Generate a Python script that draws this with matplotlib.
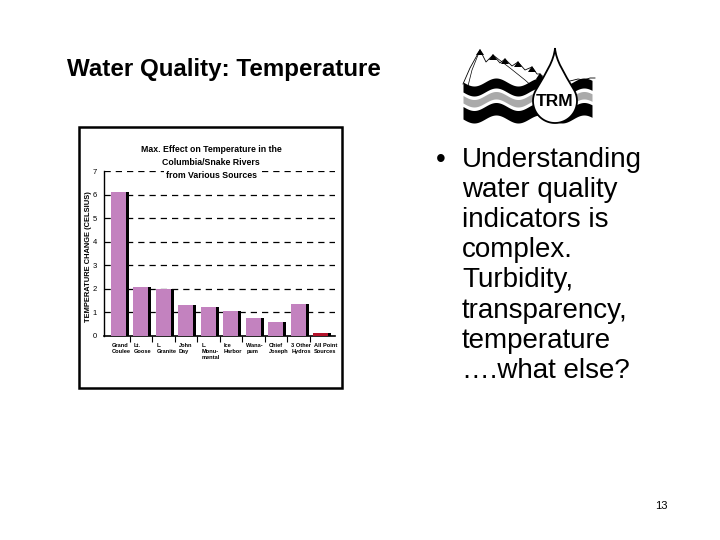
import numpy as np
import matplotlib
matplotlib.use("Agg")
import matplotlib.pyplot as plt
from matplotlib.path import Path
from matplotlib.patches import PathPatch, Rectangle

# ---------------- data ----------------
categories = ["Grand\nCoulee", "Lt.\nGoose", "L.\nGranite", "John\nDay",
              "L.\nMonu-\nmental", "Ice\nHarbor", "Wana-\npum", "Chief\nJoseph",
              "3 Other\nHydros", "All Point\nSources"]
values = [6.1, 2.1, 2.0, 1.3, 1.25, 1.07, 0.75, 0.6, 1.36, 0.14]
yticks = [0, 1, 2, 3, 4, 5, 6, 7]
chart_title = ["Max. Effect on Temperature in the", "Columbia/Snake Rivers", "from Various Sources"]
ylabel = "TEMPERATURE CHANGE (CELSIUS)"
slide_title = "Water Quality: Temperature"
bullet_lines = ["Understanding", "water quality", "indicators is", "complex.",
                "Turbidity,", "transparency,", "temperature", "\u2026.what else?"]
page_number = "13"

PINK = "#c382bf"
RED = "#b3122a"
ARIAL = ["Liberation Sans", "DejaVu Sans"]

fig = plt.figure(figsize=(7.2, 5.4), dpi=100)
fig.patch.set_facecolor("white")

# overlay axes in pixel coordinates
ov = fig.add_axes([0, 0, 1, 1], zorder=0)
ov.set_xlim(0, 720)
ov.set_ylim(540, 0)
ov.axis("off")

# slide title
ov.text(67, 76, slide_title, fontsize=17.4, fontweight="bold", family=ARIAL,
        ha="left", va="baseline")

# bullet text
for k, line in enumerate(bullet_lines):
    ov.text(462, 167 + 30.1 * k, line, fontsize=20, family=ARIAL,
            ha="left", va="baseline")
ov.text(436, 167, "\u2022", fontsize=20, family=ARIAL, ha="left", va="baseline")

# page number
ov.text(661, 509, page_number, fontsize=8, family=ARIAL, ha="center", va="baseline")

# chart frame
ov.add_patch(Rectangle((79, 127), 263, 261, fill=False, edgecolor="black", lw=1.8))

# ---------------- logo ----------------
xs = np.linspace(463, 592, 300)
P = 44.0
A = 4.0
def wave(x, off):
    return off + A * np.sin(2 * np.pi * (x - 463) / P)
ov.fill_between(xs, wave(xs, 82), wave(xs, 92), color="black", lw=0, zorder=2)
ov.fill_between(xs, wave(xs, 95.5), wave(xs, 103), color="#aaaaaa", lw=0, zorder=2)
ov.fill_between(xs, wave(xs, 106.5), wave(xs, 119), color="black", lw=0, zorder=2)

# mountains
mx = [463, 470, 480, 486, 493, 500, 505, 512, 518, 525, 532, 537, 540, 546, 552]
my = [84, 68, 50, 62, 55, 63, 59, 66, 62, 70, 67, 74, 74, 79, 82]
ov.plot(mx, my, color="black", lw=0.6, zorder=2)
ov.plot([480, 472, 468], [50, 70, 86], color="black", lw=0.5, zorder=2)
ov.plot([493, 510, 525, 534], [55, 68, 80, 88], color="black", lw=0.5, zorder=2)
for px, py in [(480, 50), (493, 55), (505, 59), (518, 62), (532, 67), (540, 74)]:
    ov.fill([px - 4, px, px + 4], [py + 5, py - 1, py + 5], color="black", lw=0, zorder=2)
ov.plot([570, 578, 584, 590, 595], [81, 79, 80, 78, 78], color="black", lw=0.6, zorder=2)

# drop
cx, cy, R = 555, 101, 22
lx, ly = cx - R * np.cos(np.radians(30)), cy - R * np.sin(np.radians(30))
rx, ry = cx + R * np.cos(np.radians(30)), ly
ang = np.radians(np.linspace(150, 390, 60))
arc = [(cx + R * np.cos(a), cy - R * np.sin(a)) for a in ang]
verts = [(cx, 48), (cx - 1, 61), (lx + 10, ly - 17.3), (lx, ly)]
codes = [Path.MOVETO, Path.CURVE4, Path.CURVE4, Path.CURVE4]
for p in arc[1:]:
    verts.append(p)
    codes.append(Path.LINETO)
verts += [(rx - 10, ry - 17.3), (cx + 1, 61), (cx, 48)]
codes += [Path.CURVE4, Path.CURVE4, Path.CURVE4]
ov.add_patch(PathPatch(Path(verts, codes), facecolor="white", edgecolor="black",
                       lw=1.3, zorder=3))
ov.text(cx, 102, "TRM", fontsize=12.5, fontweight="bold", family=ARIAL,
        ha="center", va="center", zorder=4)

# ---------------- chart ----------------
L, Rr, B, T = 104, 335, 336, 171
ax = fig.add_axes([L / 720, (540 - B) / 540, (Rr - L) / 720, (B - T) / 540], zorder=1)
ax.set_facecolor("white")
x = np.arange(len(categories))
pink_w = 0.66
shadow_w = 0.14
colors = [PINK] * (len(values) - 1) + [RED]
ax.bar(x - 0.34, values, width=pink_w, align="edge", color=colors, edgecolor="none", zorder=3)
ax.bar(x - 0.34 + pink_w, values, width=shadow_w, align="edge", color="black",
       edgecolor="none", zorder=3)

ax.set_xlim(-0.65, 9.62)
ax.set_ylim(0, 7)
ax.set_yticks(yticks)
ax.set_yticklabels([str(v) for v in yticks], fontsize=5.5, family=ARIAL)
ax.tick_params(axis="y", length=0, pad=5)
for v in yticks[1:]:
    ax.axhline(v, color="black", lw=0.9, ls=(0, (5, 4)), zorder=1)

ax.set_xticks(x[:-1] + 0.5)
ax.set_xticklabels([])
ax.tick_params(axis="x", which="major", length=4, width=0.8, direction="out")
ax.set_xticks(x - 0.32, minor=True)
ax.set_xticklabels(categories, minor=True, fontsize=4.1, fontweight="bold",
                   family=ARIAL, ha="left", va="top", linespacing=1.2)
ax.tick_params(axis="x", which="minor", length=0, pad=5)

for s in ["top", "right"]:
    ax.spines[s].set_visible(False)
ax.spines["left"].set_linewidth(1.0)
ax.spines["bottom"].set_linewidth(1.2)
ax.set_ylabel(ylabel, fontsize=5.4, fontweight="bold", family=ARIAL)
ax.yaxis.set_label_coords((92 - L) / (Rr - L), (B - 257) / (B - T))

# chart title (drawn over the top gridline, white box)
for k, line in enumerate(chart_title):
    ax.text(211, 150 + 12.5 * k, line, fontsize=6.3, fontweight="bold", family=ARIAL,
            ha="center", va="center", transform=ov.transData, clip_on=False, zorder=6,
            bbox=dict(boxstyle="square,pad=0.15", facecolor="white", edgecolor="none"))

fig.savefig("out.png", dpi=100, facecolor="white")
